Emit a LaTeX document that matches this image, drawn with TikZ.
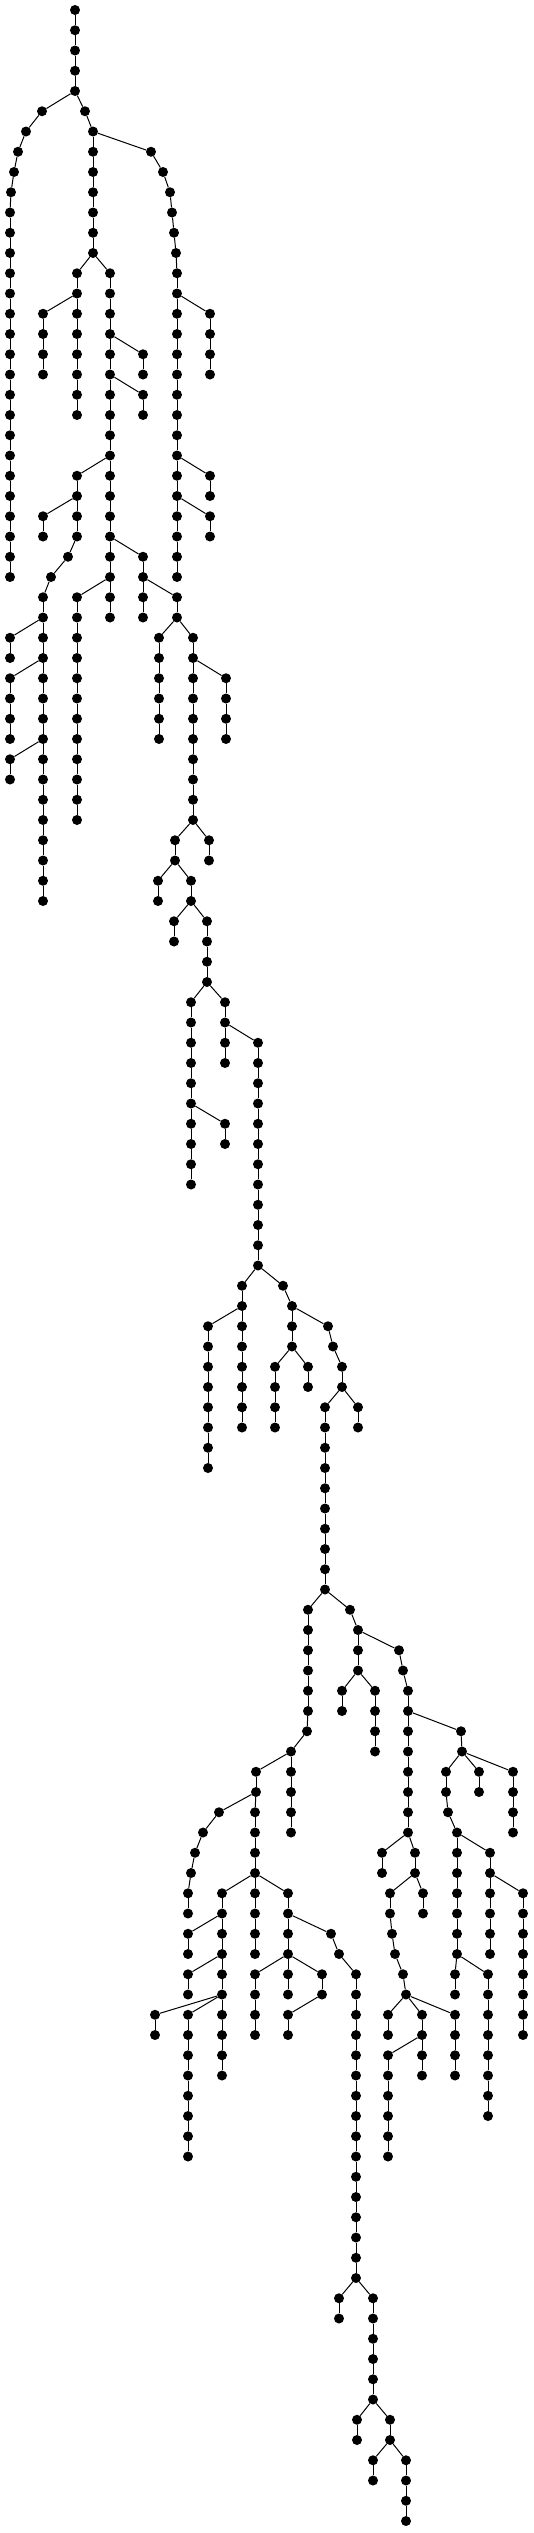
\documentclass[tikz,border=0pt]{standalone}
\usepackage{tikz}

\tikzset{
  dot/.style={circle, fill=black, inner sep=0pt, minimum size=10pt},
  twigline/.style={line width=1pt}
}

% vertical run of dots at x=#1, rows #2..#3, first one hung under (row #2-1, x=#4)
\newcommand{\twig}[4]{%
  \foreach \r in {#2,...,#3}{%
    \pgfmathtruncatemacro{\q}{\r-1}%
    \ifnum\r=#2 \def\prt{#4}\else\def\prt{#1}\fi
    \node[dot] (n\r-#1) at (#1,\r) {};
    \draw[twigline] (n\q-\prt) -- (n\r-#1);
  }}

\begin{document}
\begin{tikzpicture}[x=1pt, y=-20.25pt]
    \useasboundingbox (0pt,10pt) rectangle (534pt,-2523pt);

        %Root and first split
        \node[dot] (n0-75) at (75,0) {};
        \twig{75}{1}{4}{75}

        %Left long run
        \twig{42}{5}{5}{75}
        \twig{26}{6}{6}{42}
        \twig{18}{7}{7}{26}
        \twig{14}{8}{8}{18}
        \twig{11}{9}{9}{14}
        \twig{10}{10}{28}{11}

        %Right run
        \twig{85}{5}{5}{75}
        \twig{93}{6}{12}{85}
        \twig{151}{7}{7}{93}
        \twig{163}{8}{8}{151}
        \twig{170}{9}{9}{163}
        \twig{172}{10}{10}{170}
        \twig{174}{11}{11}{172}
        \twig{176}{12}{12}{174}
        \twig{177}{13}{28}{176}
        \twig{210}{15}{18}{177}
        \twig{210}{23}{24}{177}
        \twig{210}{25}{26}{177}

        %Middle
        \twig{77}{13}{20}{93}
        \twig{43}{15}{18}{77}
        \twig{110}{13}{30}{93}
        \twig{143}{17}{18}{110}
        \twig{143}{19}{20}{110}
        \twig{77}{23}{26}{110}
        \twig{43}{25}{26}{77}
        \twig{68}{27}{27}{77}
        \twig{51}{28}{28}{68}
        \twig{43}{29}{44}{51}
        \twig{10}{31}{32}{43}
        \twig{10}{33}{36}{43}
        \twig{10}{37}{38}{43}
        \twig{143}{27}{30}{110}
        \twig{77}{29}{40}{110}
        \twig{177}{29}{30}{143}
        \twig{159}{31}{36}{177}
        \twig{193}{31}{40}{177}
        \twig{226}{33}{36}{193}
        \twig{209}{41}{42}{193}
        \twig{175}{41}{42}{193}
        \twig{158}{43}{44}{175}
        \twig{191}{43}{44}{175}
        \twig{174}{45}{46}{191}
        \twig{207}{45}{48}{191}
        \twig{191}{49}{58}{207}
        \twig{225}{55}{56}{191}
        \twig{225}{49}{52}{207}
        \twig{258}{51}{62}{225}
        \twig{242}{63}{70}{258}
        \twig{208}{65}{72}{242}
        \twig{283}{63}{63}{258}
        \twig{292}{64}{66}{283}
        \twig{275}{67}{70}{292}
        \twig{308}{67}{68}{292}
        \twig{328}{65}{65}{292}
        \twig{333}{66}{66}{328}
        \twig{342}{67}{68}{333}
        \twig{358}{69}{70}{342}
        \twig{325}{69}{78}{342}

        %Lower left
        \twig{308}{79}{84}{325}
        \twig{307}{85}{85}{308}
        \twig{291}{86}{90}{307}
        \twig{256}{87}{88}{291}
        \twig{219}{89}{89}{256}
        \twig{203}{90}{90}{219}
        \twig{195}{91}{91}{203}
        \twig{191}{92}{92}{195}
        \twig{188}{93}{94}{191}
        \twig{255}{89}{96}{256}
        \twig{222}{93}{102}{255}
        \twig{188}{95}{96}{222}
        \twig{188}{97}{98}{222}
        \twig{155}{99}{100}{222}
        \twig{188}{99}{106}{222}
        \twig{288}{93}{98}{255}
        \twig{331}{95}{95}{288}
        \twig{339}{96}{96}{331}
        \twig{356}{97}{112}{339}
        \twig{339}{113}{114}{356}
        \twig{373}{113}{118}{356}
        \twig{357}{119}{120}{373}
        \twig{390}{119}{120}{373}
        \twig{373}{121}{122}{390}
        \twig{406}{121}{124}{390}
        \twig{255}{97}{100}{288}
        \twig{322}{97}{98}{288}
        \twig{288}{99}{100}{322}

        %Lower right
        \twig{350}{79}{79}{325}
        \twig{358}{80}{82}{350}
        \twig{342}{83}{84}{358}
        \twig{375}{83}{86}{358}
        \twig{399}{81}{81}{358}
        \twig{403}{82}{82}{399}
        \twig{408}{83}{90}{403}
        \twig{461}{85}{85}{408}
        \twig{462}{86}{86}{461}
        \twig{479}{87}{88}{462}
        \twig{513}{87}{90}{462}
        \twig{446}{87}{88}{462}
        \twig{448}{89}{89}{446}
        \twig{457}{90}{96}{448}
        \twig{455}{97}{98}{457}
        \twig{488}{97}{104}{457}
        \twig{490}{91}{96}{457}
        \twig{523}{93}{100}{490}
        \twig{382}{91}{92}{408}
        \twig{415}{91}{92}{408}
        \twig{423}{93}{94}{415}
        \twig{390}{93}{94}{415}
        \twig{392}{95}{95}{390}
        \twig{395}{96}{96}{392}
        \twig{403}{97}{97}{395}
        \twig{406}{98}{98}{403}
        \twig{388}{99}{100}{406}
        \twig{422}{99}{102}{406}
        \twig{455}{99}{102}{406}
        \twig{388}{101}{106}{422}

\end{tikzpicture}
\end{document}
